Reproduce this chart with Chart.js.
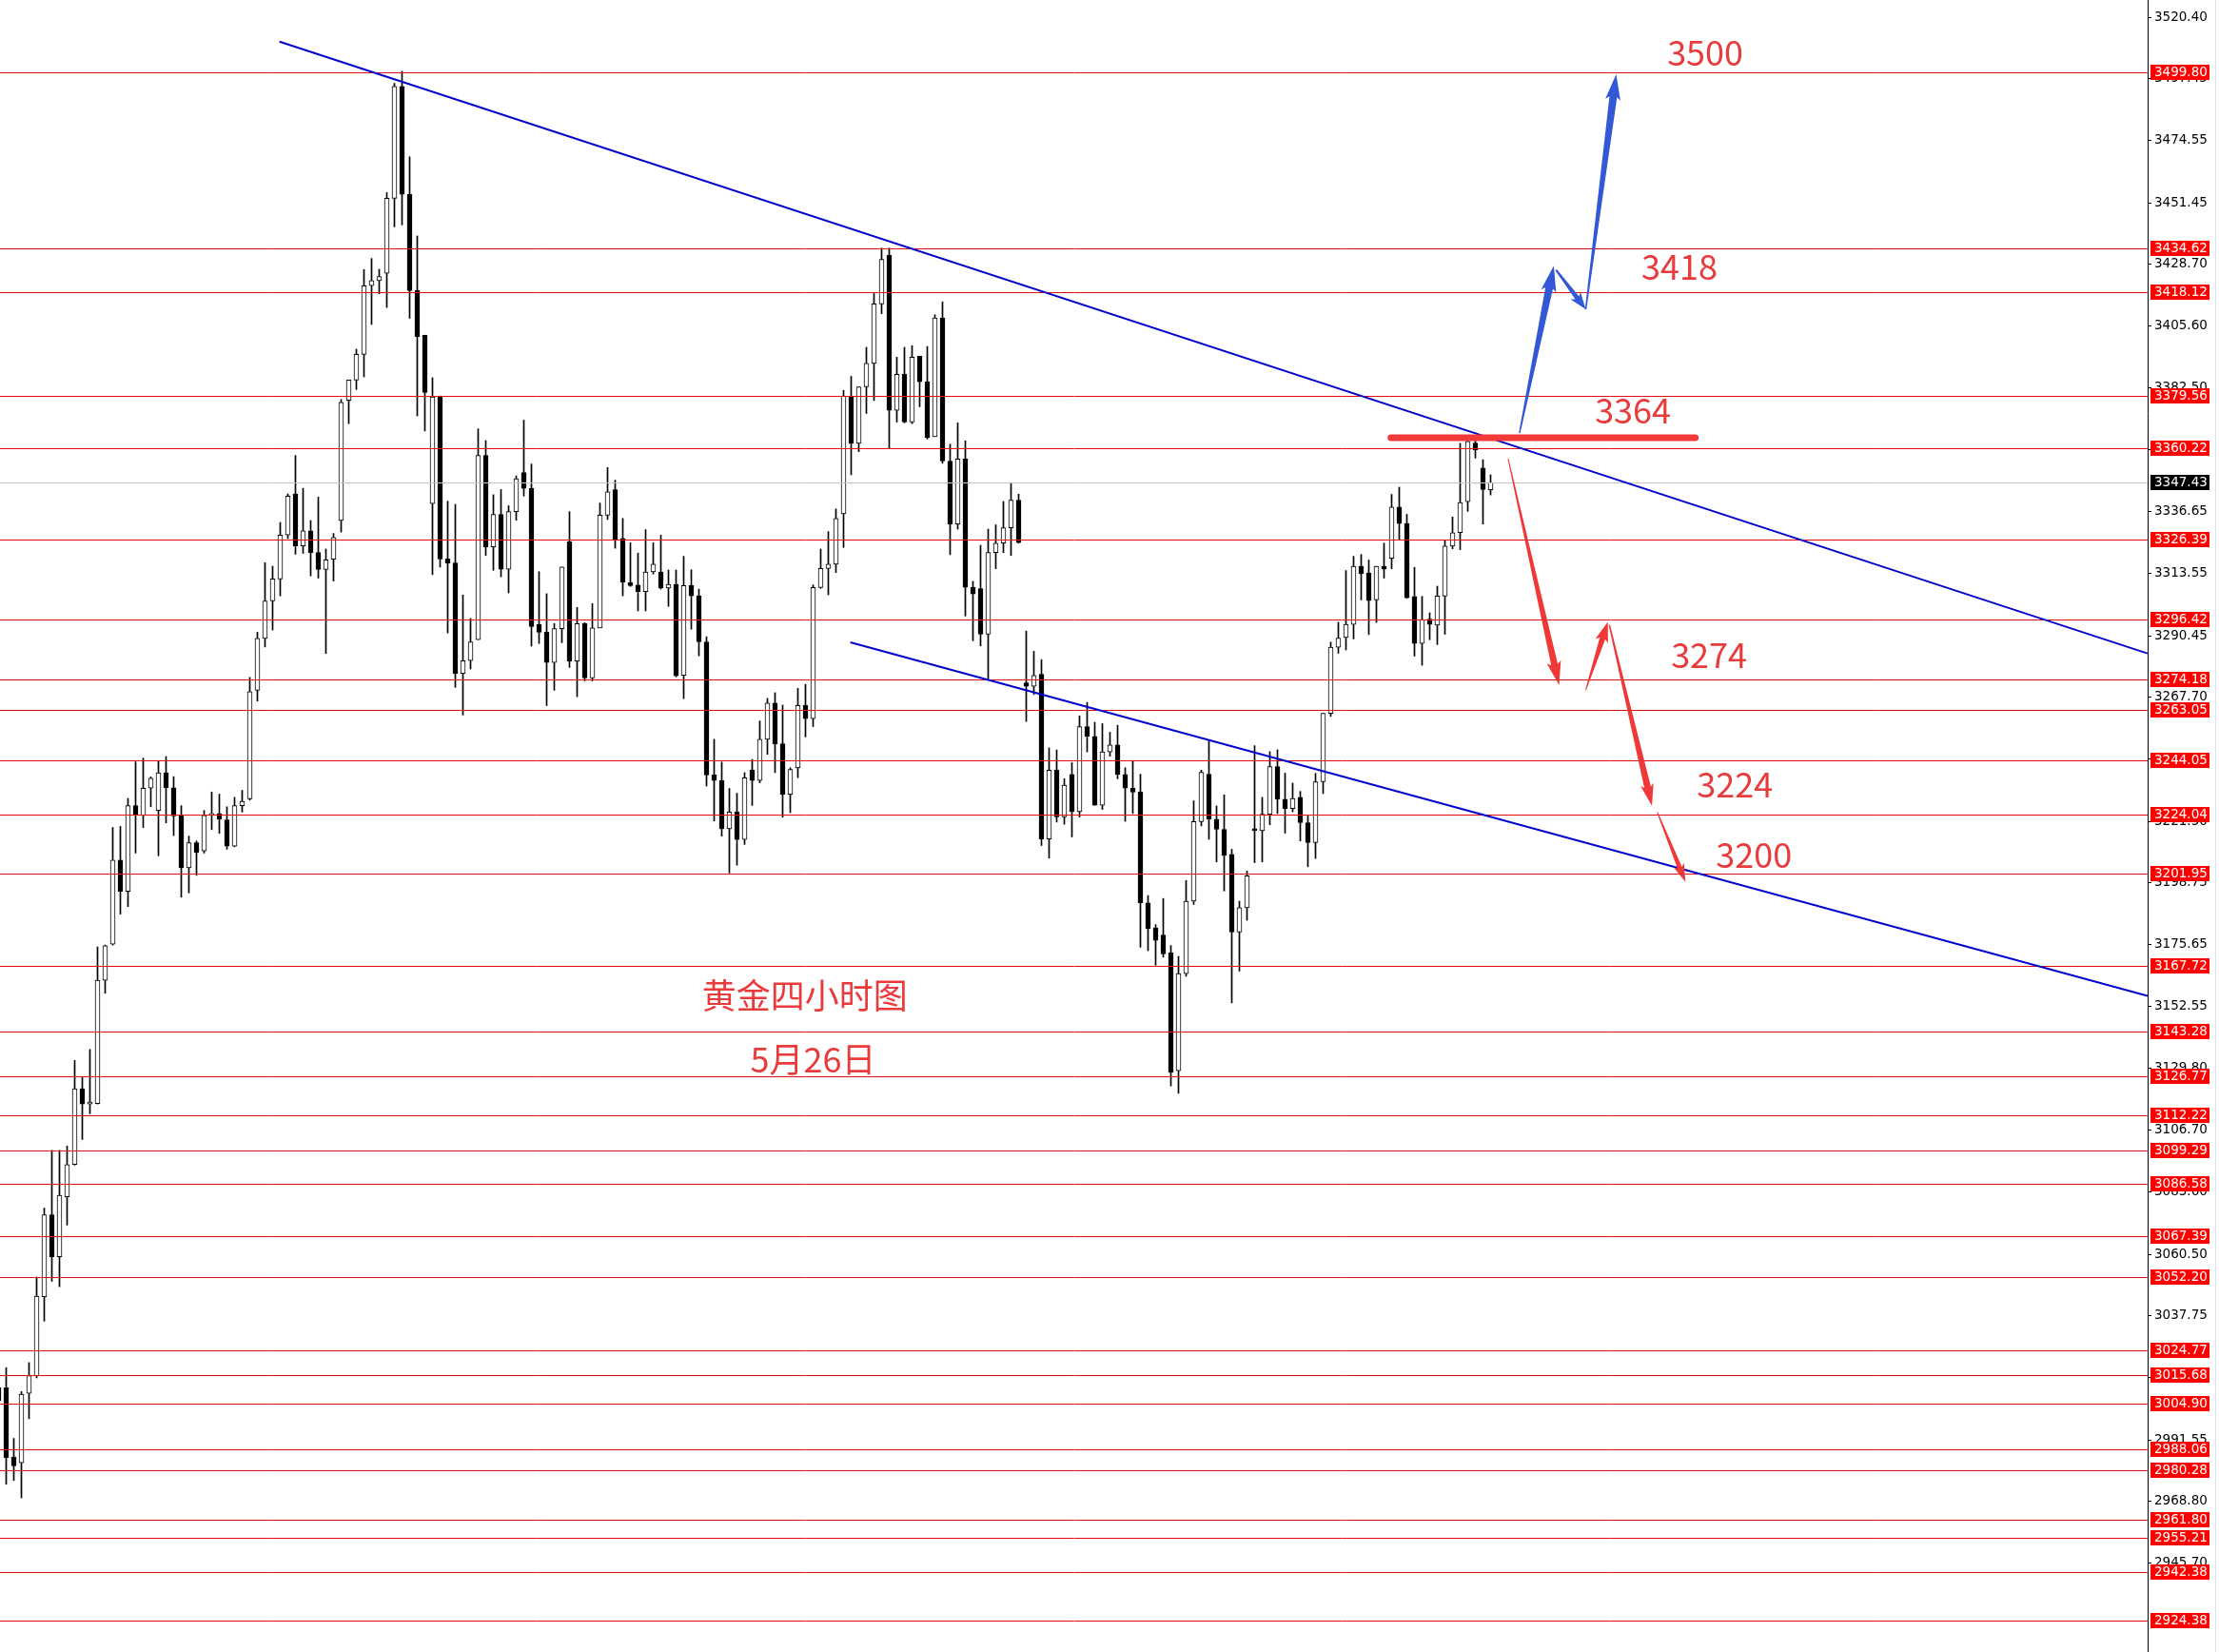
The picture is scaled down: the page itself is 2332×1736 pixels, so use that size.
<!DOCTYPE html>
<html lang="zh">
<head>
<meta charset="UTF-8">
<title>黄金四小时图</title>
<script src="https://cdn.jsdelivr.net/npm/chart.js"></script>
<style>
    html, body { margin: 0; padding: 0; background: #fff; }
    .chart-box { position: relative; width: 2332px; height: 1736px; }
</style>
</head>
<body>
<div class="chart-box"><canvas id="chart"></canvas></div>
<script>
    // 4小时K线 (开 高 低 收)，从左到右
    const opens = [
        3010.9, 3010.9, 2985.2, 2983.0, 3008.9, 3015.4, 3044.8, 3075.2, 3059.6, 3081.9,
        3093.9, 3122.1, 3116.4, 3116.6, 3162.4, 3175.8, 3207.1, 3195.5, 3227.3, 3223.7,
        3233.8, 3225.5, 3239.5, 3234.0, 3223.5, 3204.2, 3213.5, 3210.5, 3223.7, 3224.3,
        3222.0, 3212.3, 3227.3, 3229.9, 3270.2, 3289.5, 3303.4, 3311.6, 3327.9, 3343.2,
        3323.9, 3329.5, 3321.4, 3315.1, 3318.9, 3333.3, 3378.0, 3385.5, 3395.1, 3420.6,
        3422.5, 3425.2, 3453.1, 3494.7, 3454.6, 3418.8, 3402.2, 3339.6, 3379.3, 3319.0,
        3317.5, 3276.5, 3281.2, 3289.0, 3357.5, 3323.5, 3335.6, 3315.2, 3336.6, 3351.1,
        3345.3, 3294.7, 3291.8, 3280.5, 3293.1, 3325.4, 3281.1, 3295.0, 3274.8, 3293.4,
        3335.3, 3344.8, 3326.6, 3310.3, 3309.3, 3306.9, 3314.2, 3314.2, 3308.2, 3309.6,
        3275.8, 3309.1, 3305.3, 3288.2, 3238.7, 3236.7, 3218.7, 3224.9, 3214.7, 3240.5,
        3236.7, 3252.0, 3265.4, 3250.3, 3231.5, 3241.4, 3264.6, 3259.7, 3308.4, 3315.5,
        3317.1, 3335.8, 3379.4, 3362.0, 3383.0, 3391.7, 3413.8, 3431.9, 3374.3, 3387.7,
        3369.9, 3394.4, 3384.9, 3364.5, 3408.6, 3355.4, 3332.0, 3356.2, 3308.5, 3308.0,
        3291.1, 3321.4, 3324.9, 3330.6, 3340.9, 3273.0, 3271.7, 3276.1, 3214.9, 3240.5,
        3223.1, 3238.9, 3225.1, 3256.7, 3253.1, 3227.5, 3247.3, 3249.9, 3238.9, 3233.8,
        3232.4, 3191.2, 3181.9, 3179.2, 3172.6, 3128.8, 3164.9, 3191.8, 3221.4, 3239.0,
        3222.3, 3218.5, 3209.2, 3180.3, 3189.4, 3218.5, 3218.0, 3224.1, 3241.8, 3229.7,
        3226.2, 3230.4, 3221.0, 3213.6, 3236.2, 3261.6, 3286.2, 3289.8, 3294.7, 3316.3,
        3313.8, 3303.8, 3316.3, 3319.3, 3338.3, 3332.2, 3305.1, 3287.6, 3296.7, 3294.4,
        3305.2, 3323.8, 3328.8, 3340.3, 3362.1, 3352.8, 3344.7
    ];
    const highs = [
        3018.0, 3018.4, 2992.1, 3009.5, 3020.3, 3052.1, 3077.7, 3099.2, 3099.2, 3100.8,
        3132.6, 3126.5, 3136.7, 3174.8, 3175.5, 3219.2, 3219.6, 3230.0, 3243.6, 3245.0,
        3238.0, 3243.8, 3245.6, 3238.1, 3227.3, 3216.0, 3214.2, 3225.5, 3232.4, 3231.6,
        3226.9, 3230.4, 3233.0, 3275.0, 3291.8, 3317.6, 3316.3, 3332.6, 3343.2, 3357.5,
        3345.3, 3333.3, 3342.0, 3322.7, 3328.5, 3378.3, 3385.5, 3397.0, 3426.6, 3430.7,
        3426.7, 3455.2, 3495.8, 3500.3, 3468.5, 3439.1, 3402.2, 3386.4, 3379.6, 3340.5,
        3339.3, 3305.6, 3296.9, 3367.4, 3363.0, 3342.9, 3344.8, 3338.8, 3349.9, 3370.6,
        3354.3, 3314.3, 3306.1, 3295.0, 3316.0, 3336.6, 3301.0, 3295.3, 3302.4, 3339.8,
        3353.0, 3348.3, 3334.1, 3325.0, 3321.2, 3329.9, 3325.0, 3327.9, 3314.9, 3314.9,
        3320.0, 3315.0, 3307.8, 3290.1, 3252.0, 3243.5, 3233.7, 3231.9, 3239.6, 3244.5,
        3258.8, 3267.2, 3269.3, 3264.7, 3241.4, 3270.9, 3272.4, 3309.4, 3322.7, 3329.2,
        3337.6, 3381.7, 3386.9, 3383.0, 3397.7, 3417.7, 3434.6, 3434.6, 3394.0, 3397.7,
        3398.3, 3394.4, 3398.0, 3409.8, 3414.6, 3361.7, 3369.6, 3362.9, 3310.7, 3324.1,
        3330.1, 3331.7, 3340.4, 3347.2, 3343.1, 3292.2, 3284.7, 3281.6, 3248.8, 3248.0,
        3237.3, 3243.3, 3260.7, 3265.7, 3258.3, 3257.8, 3254.6, 3257.2, 3241.4, 3244.1,
        3239.0, 3193.9, 3183.1, 3192.8, 3175.3, 3171.3, 3199.5, 3229.1, 3240.5, 3251.8,
        3227.2, 3231.3, 3211.1, 3191.8, 3203.0, 3249.6, 3230.4, 3247.4, 3248.1, 3239.4,
        3235.7, 3232.6, 3223.5, 3239.3, 3261.6, 3288.1, 3295.5, 3314.7, 3320.0, 3320.7,
        3318.6, 3316.3, 3324.9, 3343.0, 3345.7, 3335.6, 3315.9, 3305.1, 3299.0, 3308.9,
        3326.1, 3334.6, 3362.0, 3364.5, 3363.0, 3355.9, 3350.3
    ];
    const lows = [
        3000.0, 2975.1, 2976.5, 2970.0, 2999.4, 3014.6, 3035.7, 3050.5, 3048.5, 3071.4,
        3093.7, 3103.2, 3112.8, 3116.4, 3157.6, 3175.5, 3187.0, 3189.8, 3209.7, 3219.2,
        3226.9, 3208.7, 3220.9, 3216.2, 3193.3, 3194.9, 3201.4, 3209.7, 3218.4, 3217.0,
        3211.1, 3212.0, 3224.9, 3229.4, 3266.2, 3286.3, 3292.6, 3305.3, 3326.6, 3320.8,
        3321.1, 3312.7, 3311.9, 3283.9, 3310.8, 3329.0, 3369.3, 3382.0, 3386.7, 3406.2,
        3417.6, 3412.5, 3442.5, 3443.2, 3408.5, 3372.2, 3366.6, 3313.2, 3316.0, 3291.5,
        3271.3, 3261.0, 3278.1, 3289.0, 3320.3, 3314.8, 3312.4, 3306.4, 3333.4, 3342.4,
        3286.6, 3287.6, 3264.5, 3270.2, 3287.9, 3278.7, 3267.8, 3273.7, 3273.7, 3293.4,
        3333.7, 3323.0, 3305.3, 3308.8, 3299.7, 3299.7, 3313.4, 3307.8, 3301.4, 3275.2,
        3267.1, 3292.9, 3283.0, 3234.6, 3221.6, 3216.0, 3202.3, 3205.2, 3212.9, 3227.4,
        3235.8, 3246.4, 3239.6, 3223.0, 3224.7, 3237.7, 3252.9, 3256.7, 3308.1, 3305.7,
        3314.0, 3323.3, 3350.3, 3358.9, 3373.1, 3377.9, 3410.2, 3360.1, 3369.9, 3369.6,
        3369.3, 3375.6, 3363.6, 3364.5, 3354.6, 3320.6, 3330.1, 3297.8, 3288.6, 3286.7,
        3274.4, 3315.4, 3321.4, 3320.3, 3324.9, 3258.6, 3268.6, 3212.5, 3207.8, 3221.2,
        3220.4, 3215.7, 3223.1, 3247.3, 3227.5, 3225.9, 3245.7, 3237.3, 3221.5, 3224.4,
        3174.7, 3173.4, 3168.0, 3171.0, 3123.1, 3120.4, 3163.9, 3190.6, 3219.8, 3214.8,
        3206.4, 3195.6, 3154.0, 3165.8, 3184.7, 3206.1, 3206.4, 3220.2, 3224.4, 3217.1,
        3225.0, 3214.2, 3204.6, 3207.7, 3231.8, 3260.5, 3284.0, 3285.2, 3289.3, 3303.8,
        3290.9, 3295.4, 3311.9, 3315.4, 3326.2, 3304.4, 3282.9, 3279.5, 3289.0, 3287.2,
        3291.0, 3322.8, 3322.5, 3336.7, 3356.5, 3332.0, 3342.8
    ];
    const closes = [
        3006.0, 2985.0, 2981.9, 3008.5, 3015.4, 3045.0, 3075.2, 3059.6, 3082.5, 3093.9,
        3122.1, 3116.4, 3116.6, 3162.4, 3175.2, 3207.1, 3195.5, 3227.3, 3223.7, 3233.8,
        3237.5, 3239.5, 3234.0, 3223.5, 3204.2, 3213.5, 3209.9, 3223.7, 3224.0, 3222.3,
        3212.3, 3227.3, 3228.9, 3269.7, 3289.5, 3303.4, 3311.6, 3327.9, 3342.4, 3323.9,
        3329.5, 3321.4, 3315.1, 3318.7, 3327.0, 3377.2, 3385.5, 3395.1, 3420.6, 3422.5,
        3424.0, 3453.1, 3494.7, 3454.6, 3418.8, 3401.7, 3380.9, 3379.3, 3319.0, 3317.5,
        3276.5, 3281.2, 3288.2, 3357.5, 3323.5, 3335.6, 3315.2, 3336.6, 3348.8, 3345.3,
        3293.9, 3291.8, 3280.5, 3293.1, 3316.0, 3281.1, 3295.0, 3274.8, 3293.4, 3335.3,
        3344.0, 3326.3, 3310.3, 3309.1, 3306.9, 3314.2, 3317.1, 3308.2, 3309.6, 3275.6,
        3309.1, 3305.3, 3288.2, 3238.7, 3236.7, 3218.7, 3224.9, 3214.7, 3237.7, 3236.7,
        3252.0, 3265.4, 3250.3, 3231.5, 3240.8, 3264.6, 3259.7, 3308.4, 3315.5, 3317.1,
        3334.1, 3379.6, 3362.0, 3383.0, 3391.7, 3413.8, 3430.4, 3374.3, 3387.7, 3369.9,
        3394.0, 3384.9, 3364.1, 3408.6, 3355.4, 3332.0, 3356.2, 3308.5, 3306.0, 3291.1,
        3321.4, 3324.9, 3330.6, 3340.9, 3325.1, 3271.7, 3275.7, 3214.9, 3240.5, 3223.1,
        3234.9, 3225.1, 3256.7, 3253.1, 3227.5, 3247.3, 3249.9, 3238.9, 3233.8, 3232.3,
        3191.2, 3181.6, 3177.2, 3172.2, 3128.2, 3164.9, 3191.8, 3221.4, 3239.7, 3222.3,
        3218.5, 3208.8, 3180.3, 3189.4, 3201.2, 3218.0, 3224.1, 3241.8, 3229.7, 3226.2,
        3230.0, 3221.0, 3213.6, 3236.2, 3261.6, 3286.2, 3289.6, 3294.7, 3316.3, 3313.6,
        3303.5, 3316.3, 3315.3, 3338.3, 3332.2, 3304.6, 3287.6, 3296.4, 3294.7, 3305.2,
        3323.8, 3328.8, 3340.0, 3362.7, 3359.6, 3344.8, 3347.43
    ];

    // 水平价位线
    const levels = [
        3499.80, 3434.62, 3418.12, 3379.56, 3360.22, 3326.39, 3296.42, 3274.18, 3263.05, 3244.05,
        3224.04, 3201.95, 3167.72, 3143.28, 3126.77, 3112.22, 3099.29, 3086.58, 3067.39, 3052.20,
        3024.77, 3015.68, 3004.90, 2988.06, 2980.28, 2961.80, 2955.21, 2942.38, 2924.38
    ];
    const currentPrice = 3347.43;

    // 右侧价格刻度
    const tickValues = [
        3520.40, 3497.45, 3474.55, 3451.45, 3428.70, 3405.60, 3382.50, 3359.60, 3336.65, 3313.55,
        3290.45, 3267.70, 3244.60, 3221.50, 3198.75, 3175.65, 3152.55, 3129.80, 3106.70, 3083.60,
        3060.50, 3037.75, 3014.65, 2991.55, 2968.80, 2945.70
    ];
    const Y_MIN = 2912.7, Y_MAX = 3526.8;
    const X_MIN = 0.1875, X_MAX = 282.3125;

    // 趋势线 [k线序号, 价格]
    const upperTrend = [[36.9, 3511.3], [282.3, 3283.9]];
    const lowerTrend = [[111.9, 3288.0], [282.3, 3156.6]];

    // 3364 粗红线
    const keyLine = {from: 182.9, to: 222.9, price: 3364.1};

    // 箭头 [起点序号, 起点价格, 终点序号, 终点价格]
    const blueArrows = [
        [199.8, 3365.8, 204.3, 3428.0],
        [204.6, 3426.5, 208.5, 3411.8],
        [208.5, 3411.8, 212.5, 3499.2]
    ];
    const redArrows = [
        [198.3, 3356.3, 205.0, 3272.1],
        [208.5, 3270.3, 211.4, 3295.6],
        [211.6, 3294.5, 217.2, 3227.3],
        [217.9, 3224.9, 221.6, 3199.0]
    ];

    // 文字标注
    const notes = [
        {text: '3500', x: 224.2, y: 3507.3},
        {text: '3418', x: 220.8, y: 3427.7},
        {text: '3364', x: 214.7, y: 3374.3},
        {text: '3274', x: 224.7, y: 3283.2},
        {text: '3224', x: 228.1, y: 3235.2},
        {text: '3200', x: 230.6, y: 3209.1},
        {text: '黄金四小时图', x: 105.9, y: 3156.6},
        {text: '5月26日', x: 107.0, y: 3132.9}
    ];

    const wickData = highs.map((h, i) => ({x: i, y: [lows[i], h]}));
    const bodyData = opens.map((o, i) => ({x: i, y: [o, closes[i]]}));
    const bodyColors = opens.map((o, i) => closes[i] >= o ? '#ffffff' : '#000000');

    function drawArrow(ctx, x0, y0, x1, y1, w0, w1, headL, headW, color) {
        const dx = x1 - x0, dy = y1 - y0, len = Math.hypot(dx, dy);
        const ux = dx / len, uy = dy / len, nx = -uy, ny = ux;
        const bx = x1 - ux * headL, by = y1 - uy * headL;
        ctx.fillStyle = color;
        ctx.beginPath();
        ctx.moveTo(x0 + nx * w0 / 2, y0 + ny * w0 / 2);
        ctx.lineTo(bx + nx * w1 / 2, by + ny * w1 / 2);
        ctx.lineTo(bx - ux * 3 + nx * headW / 2, by - uy * 3 + ny * headW / 2);
        ctx.lineTo(x1, y1);
        ctx.lineTo(bx - ux * 3 - nx * headW / 2, by - uy * 3 - ny * headW / 2);
        ctx.lineTo(bx - nx * w1 / 2, by - ny * w1 / 2);
        ctx.lineTo(x0 - nx * w0 / 2, y0 - ny * w0 / 2);
        ctx.closePath();
        ctx.fill();
    }

    const overlay = {
        id: 'overlay',
        // 价位线画在K线之上、趋势线之下
        afterDatasetDraw(chart, args) {
            if (args.index !== 1) return;
            const {ctx, chartArea: a, scales: {y}} = chart;
            ctx.save();
            ctx.lineWidth = 1;
            ctx.strokeStyle = '#c4c4c4';
            let py = Math.round(y.getPixelForValue(currentPrice)) + 0.5;
            ctx.beginPath(); ctx.moveTo(a.left, py); ctx.lineTo(a.right, py); ctx.stroke();
            ctx.strokeStyle = '#e01010';
            levels.forEach(v => {
                py = Math.round(y.getPixelForValue(v)) + 0.5;
                ctx.beginPath(); ctx.moveTo(a.left, py); ctx.lineTo(a.right, py); ctx.stroke();
            });
            ctx.restore();
        },
        afterDraw(chart) {
            const {ctx, chartArea: a, scales: {x, y}} = chart;
            ctx.save();

            // 右边框
            ctx.fillStyle = '#dde3ec';
            ctx.fillRect(chart.width - 4, 0, 1, chart.height);

            // 价格标签
            ctx.font = '13.5px "DejaVu Sans"';
            ctx.textBaseline = 'middle';
            ctx.textAlign = 'left';
            const tag = (v, bg) => {
                const py = Math.round(y.getPixelForValue(v));
                ctx.fillStyle = bg;
                ctx.fillRect(a.right + 3, py - 8, 62, 16);
                ctx.fillStyle = '#ffffff';
                ctx.fillText(v.toFixed(2), a.right + 7, py + 0.5);
            };
            levels.forEach(v => tag(v, '#ff0000'));
            tag(currentPrice, '#000000');

            // 粗红线 3364
            ctx.beginPath();
            ctx.strokeStyle = '#f23a3a';
            ctx.lineWidth = 7;
            ctx.lineCap = 'round';
            ctx.moveTo(x.getPixelForValue(keyLine.from), y.getPixelForValue(keyLine.price));
            ctx.lineTo(x.getPixelForValue(keyLine.to), y.getPixelForValue(keyLine.price));
            ctx.stroke();

            // 箭头
            const blueSize = [[1.5, 8, 24, 16], [2, 5, 15, 13], [1.5, 8, 24, 16]];
            blueArrows.forEach((p, i) => {
                const s = blueSize[i];
                drawArrow(ctx, x.getPixelForValue(p[0]), y.getPixelForValue(p[1]),
                    x.getPixelForValue(p[2]), y.getPixelForValue(p[3]), s[0], s[1], s[2], s[3], '#3358d6');
            });
            const redSize = [[1, 7, 22, 15], [1, 6, 18, 14], [1.5, 7, 20, 14], [1, 5, 16, 12]];
            redArrows.forEach((p, i) => {
                const s = redSize[i];
                drawArrow(ctx, x.getPixelForValue(p[0]), y.getPixelForValue(p[1]),
                    x.getPixelForValue(p[2]), y.getPixelForValue(p[3]), s[0], s[1], s[2], s[3], '#f03838');
            });

            // 文字
            ctx.fillStyle = '#e93a3c';
            ctx.textAlign = 'center';
            ctx.textBaseline = 'middle';
            ctx.font = '36px "Noto Sans CJK SC"';
            notes.forEach(n => {
                ctx.fillText(n.text, x.getPixelForValue(n.x), y.getPixelForValue(n.y));
            });
            ctx.restore();
        }
    };

    const chart = new Chart(document.getElementById('chart'), {
        type: 'bar',
        data: {
            datasets: [
                {
                    data: wickData,
                    backgroundColor: '#000000',
                    borderWidth: 0,
                    barThickness: 1,
                    grouped: false,
                    order: 3
                },
                {
                    data: bodyData,
                    backgroundColor: bodyColors,
                    borderColor: '#000000',
                    borderWidth: 1,
                    borderSkipped: false,
                    barThickness: 5,
                    minBarLength: 2,
                    grouped: false,
                    order: 2
                },
                {
                    type: 'line',
                    data: upperTrend.map(p => ({x: p[0], y: p[1]})),
                    borderColor: '#0000cc',
                    borderWidth: 2,
                    pointRadius: 0,
                    order: 1
                },
                {
                    type: 'line',
                    data: lowerTrend.map(p => ({x: p[0], y: p[1]})),
                    borderColor: '#0000cc',
                    borderWidth: 2,
                    pointRadius: 0,
                    order: 1
                }
            ]
        },
        options: {
            responsive: true,
            maintainAspectRatio: false,
            animation: false,
            layout: {padding: 0},
            plugins: {
                legend: {display: false},
                tooltip: {enabled: false}
            },
            scales: {
                x: {
                    type: 'linear',
                    min: X_MIN,
                    max: X_MAX,
                    offset: false,
                    display: false
                },
                y: {
                    position: 'right',
                    min: Y_MIN,
                    max: Y_MAX,
                    afterBuildTicks: s => { s.ticks = tickValues.map(v => ({value: v})); },
                    afterFit: s => { s.width = 75; s.paddingTop = 0; s.paddingBottom = 0; },
                    ticks: {
                        autoSkip: false,
                        color: '#000000',
                        padding: 3,
                        font: {family: 'DejaVu Sans', size: 13.5},
                        callback: v => Number(v).toFixed(2)
                    },
                    grid: {
                        drawOnChartArea: false,
                        drawTicks: true,
                        tickLength: 4,
                        color: '#000000'
                    },
                    border: {display: true, color: '#000000', width: 1}
                }
            }
        },
        plugins: [overlay]
    });
</script>
</body>
</html>
